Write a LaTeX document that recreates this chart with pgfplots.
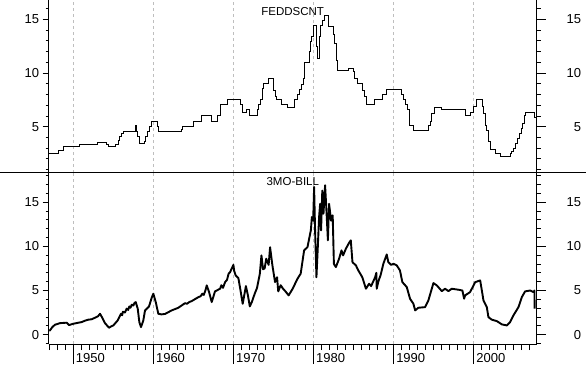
\documentclass[border=0pt]{standalone}
\usepackage{fontspec}
\setmainfont{Liberation Sans}
\usepackage{pgfplots}
\usepackage{pgfplotstable}
\pgfplotsset{compat=1.18}
\definecolor{gridgray}{RGB}{190,190,190}

\pgfplotstableread{
year val
1946.93 2.52
1948.13 2.82
1948.75 3.14
1950.75 3.36
1953.00 3.54
1954.17 3.36
1954.46 3.14
1955.33 3.36
1955.62 3.76
1955.83 4.13
1956.05 4.38
1956.33 4.53
1957.75 5.07
1957.92 4.53
1958.08 4.07
1958.25 3.39
1958.85 3.60
1959.04 4.07
1959.25 4.53
1959.46 5.00
1959.79 5.52
1960.50 5.00
1960.62 4.53
1963.54 4.76
1963.67 5.00
1965.00 5.52
1966.04 6.06
1967.29 5.52
1968.00 6.06
1968.33 7.09
1969.29 7.55
1970.91 7.09
1971.12 6.34
1971.67 6.56
1972.00 6.06
1973.00 6.56
1973.17 7.09
1973.33 7.55
1973.58 8.58
1973.75 9.04
1974.36 9.47
1975.00 8.42
1975.20 7.80
1975.41 7.55
1975.95 7.09
1976.74 6.81
1977.62 7.49
1977.95 8.02
1978.24 8.48
1978.45 8.89
1978.74 9.51
1978.86 11.00
1979.45 11.99
1979.60 12.92
1979.73 13.45
1980.03 14.41
1980.36 12.50
1980.53 11.40
1980.73 13.45
1980.90 14.41
1981.15 14.88
1981.40 15.38
1981.86 14.32
1982.48 13.55
1982.66 12.77
1982.82 11.20
1982.95 10.28
1984.41 10.44
1984.95 10.13
1985.07 9.51
1985.45 9.04
1986.07 8.42
1986.32 7.80
1986.57 7.09
1987.60 7.55
1988.57 8.02
1989.10 8.48
1991.03 8.02
1991.28 7.55
1991.53 7.09
1991.70 6.56
1991.98 6.06
1992.03 5.07
1992.44 4.60
1994.35 5.07
1994.56 5.50
1994.73 6.25
1995.10 6.81
1995.94 6.56
1998.98 6.09
1999.56 6.30
1999.99 6.86
2000.31 7.55
2001.05 6.86
2001.20 6.25
2001.45 5.07
2001.66 4.69
2001.83 3.60
2002.08 2.83
2002.77 2.46
2003.31 2.20
2004.56 2.46
2004.70 2.67
2004.93 3.00
2005.20 3.45
2005.45 3.90
2005.70 4.38
2005.93 4.85
2006.10 5.32
2006.30 6.09
2006.43 6.30
2007.64 5.88
2007.80 5.88
}\fedtab

\pgfplotstableread{
year val
1947.00 0.45
1947.09 0.49
1947.38 0.86
1947.72 1.13
1948.34 1.31
1949.18 1.36
1949.46 1.09
1950.00 1.24
1951.05 1.43
1951.50 1.60
1951.87 1.70
1952.30 1.75
1952.71 1.92
1953.10 2.10
1953.34 2.37
1953.62 1.92
1953.96 1.31
1954.46 0.79
1954.75 0.95
1955.00 1.05
1955.55 1.62
1955.96 2.37
1956.10 2.20
1956.20 2.60
1956.45 2.50
1956.67 2.95
1956.85 2.80
1957.00 3.20
1957.15 3.05
1957.30 3.40
1957.50 3.30
1957.65 3.60
1957.80 3.69
1958.05 2.94
1958.25 1.43
1958.46 0.86
1958.75 1.62
1958.96 2.75
1959.46 3.20
1959.80 4.20
1960.00 4.64
1960.30 3.69
1960.62 2.37
1961.00 2.30
1961.46 2.35
1962.29 2.75
1963.12 3.05
1963.96 3.57
1964.20 3.50
1964.50 3.70
1964.79 3.80
1965.62 4.25
1965.90 4.35
1966.12 4.64
1966.30 4.50
1966.50 5.00
1966.67 5.58
1966.96 4.82
1967.29 3.69
1967.70 4.90
1968.33 5.20
1968.50 5.60
1968.70 5.30
1968.96 5.95
1969.20 6.20
1969.40 6.90
1969.58 7.08
1969.90 7.70
1970.00 7.90
1970.10 7.20
1970.29 6.70
1970.62 6.40
1970.85 5.20
1971.16 3.50
1971.56 5.50
1971.80 4.50
1972.05 3.20
1972.30 3.70
1972.66 4.64
1972.95 5.30
1973.30 6.90
1973.50 8.97
1973.70 7.40
1973.90 7.50
1974.10 8.60
1974.40 7.90
1974.58 9.90
1974.87 7.84
1975.20 5.95
1975.45 6.50
1975.60 4.90
1975.90 5.60
1976.20 5.20
1976.50 4.90
1976.90 4.45
1977.40 5.20
1978.00 6.33
1978.40 6.90
1978.83 9.54
1979.25 9.90
1979.67 11.80
1979.80 13.30
1979.96 12.90
1980.08 16.70
1980.20 11.80
1980.37 6.50
1980.54 9.90
1980.70 13.30
1980.83 14.80
1980.95 11.80
1981.10 16.30
1981.25 13.70
1981.45 16.90
1981.60 14.40
1981.80 10.67
1981.95 14.80
1982.20 12.90
1982.40 13.50
1982.55 8.00
1982.80 7.65
1983.20 8.60
1983.50 9.54
1983.70 8.97
1984.05 9.73
1984.45 10.40
1984.66 10.67
1984.87 8.20
1985.30 7.84
1985.60 7.27
1986.10 6.50
1986.55 5.20
1986.95 5.77
1987.20 5.50
1987.40 5.90
1987.70 6.50
1987.85 7.00
1987.90 5.20
1988.10 6.00
1988.40 6.80
1988.73 8.03
1989.15 9.08
1989.35 8.20
1989.70 7.90
1990.00 8.03
1990.40 7.84
1990.80 7.27
1991.10 5.95
1991.65 5.39
1992.06 4.07
1992.48 3.50
1992.70 2.75
1993.10 3.05
1993.94 3.12
1994.35 3.88
1994.98 5.84
1995.40 5.58
1996.03 4.93
1996.44 5.20
1996.85 4.93
1997.27 5.20
1998.10 5.09
1998.60 5.00
1998.81 4.07
1998.94 4.45
1999.56 4.82
2000.20 5.95
2000.82 6.14
2001.03 5.00
2001.23 3.88
2001.65 3.12
2001.85 1.99
2002.27 1.70
2002.90 1.54
2003.52 1.17
2004.15 1.05
2004.56 1.43
2004.97 2.18
2005.60 3.12
2006.02 4.25
2006.43 4.90
2007.06 5.00
2007.48 4.82
2007.60 5.00
2007.62 2.94
}\billtab

\pgfplotsset{
  common/.style={
    scale only axis, width=488pt,
    xmin=1946.93, xmax=2007.88,
    tick align=outside,
    /pgf/number format/assume math mode=true,
    tick label style={font=\fontsize{13}{15}\selectfont, black},
    tick style={black, line width=0.8pt},
    axis line style={line width=1pt},
  },
  upper/.style={common, at={(48.7pt,191pt)}, anchor=south west, height=173pt,
    ymin=0.685, ymax=16.81, ytick={5,10,15}, minor ytick={1,...,16}},
  lower/.style={common, at={(48.7pt,20pt)}, anchor=south west, height=171pt,
    ymin=-1.05, ymax=18.29, ytick={0,5,10,15}, minor ytick={-1,...,18}},
  rightlab/.style={axis y line*=right, axis x line=none,
    major tick length=9pt, minor tick length=4pt,
    yticklabel style={anchor=east, xshift=39pt}},
  leftlab/.style={axis y line*=left, axis x line=none,
    major tick length=6pt, minor tick length=3pt},
}

\begin{document}
\begin{tikzpicture}[x=1pt,y=1pt]
\path[use as bounding box] (0,0) rectangle (586,364);

% ---------- upper panel ----------
\begin{axis}[upper, axis y line=none, axis x line*=bottom,
  x axis line style={draw=none}, xtick={1950,1960,...,2000}, xticklabels={},
  xtick style={draw=none}, xmajorgrids,
  grid style={gridgray, dash pattern=on 3pt off 3pt, line width=0.8pt}]
\end{axis}
\begin{axis}[upper, leftlab]
\addplot[const plot, black, line width=1pt] table[x=year,y=val]{\fedtab};
\end{axis}
\begin{axis}[upper, rightlab]
\end{axis}

% ---------- lower panel ----------
\begin{axis}[lower, axis y line=none, axis x line*=bottom,
  xtick={1950,1960,...,2000}, xticklabels={1950,1960,1970,1980,1990,2000},
  minor xtick={1947,...,2007},
  major tick length=20pt, minor tick length=6pt,
  xticklabel style={anchor=base west, inner sep=0pt, xshift=2.5pt, yshift=2pt},
  xmajorgrids,
  grid style={gridgray, dash pattern=on 3pt off 3pt, line width=0.8pt}]
\end{axis}
\begin{axis}[lower, leftlab]
\addplot[black, line width=1.9pt, line join=round] table[x=year,y=val]{\billtab};
\end{axis}
\begin{axis}[lower, rightlab]
\end{axis}

\draw[line width=1pt] (0,191) -- (586,191);
\node[anchor=base, font=\fontsize{11.5}{13}\selectfont, inner sep=0pt] at (292.7,348.7) {FEDDSCNT};
\node[anchor=base, font=\fontsize{11.5}{13}\selectfont, inner sep=0pt] at (292.8,178.3) {3MO-BILL};
\end{tikzpicture}
\end{document}
